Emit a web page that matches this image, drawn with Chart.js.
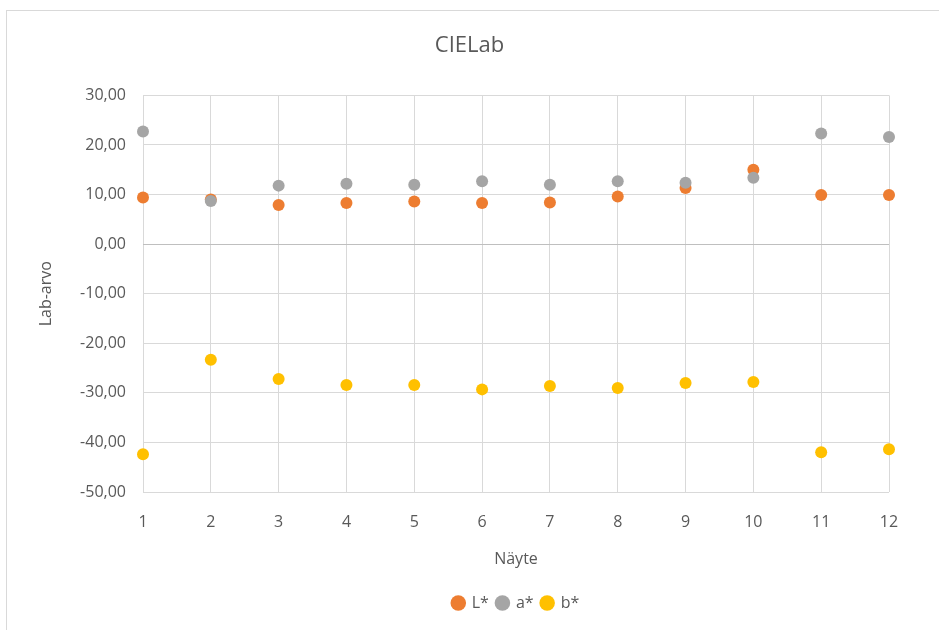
<!DOCTYPE html>
<html>
<head>
<meta charset="utf-8">
<title>CIELab</title>
<script src="https://cdn.jsdelivr.net/npm/chart.js@4"></script>
<style>
  html, body { margin: 0; padding: 0; background: #fff; overflow: hidden; }
  #frame { position: absolute; left: 6px; top: 10px; width: 1000px; height: 700px; border: 1px solid #d9d9d9; }
  #wrap { position: absolute; left: 0; top: 0; width: 939px; height: 630px; }
</style>
</head>
<body>
<div id="frame"></div>
<div id="wrap"><canvas id="chart"></canvas></div>
<script>
// näytteet 1..12
const samples = [1, 2, 3, 4, 5, 6, 7, 8, 9, 10, 11, 12];
const lValues = [9.4, 9.0, 7.9, 8.3, 8.6, 8.3, 8.4, 9.6, 11.3, 15.0, 9.9, 9.9];
const aValues = [22.7, 8.7, 11.8, 12.2, 12.0, 12.7, 12.0, 12.7, 12.4, 13.4, 22.3, 21.6];
const bValues = [-42.4, -23.3, -27.2, -28.4, -28.4, -29.3, -28.6, -29.0, -28.0, -27.8, -42.0, -41.4];
const yTicks = [-50, -40, -30, -20, -10, 0, 10, 20, 30];

const textColor = '#595959';
const font = 'Open Sans';

function toPoints(values) {
  return samples.map((x, i) => ({ x: x, y: values[i] }));
}

function series(label, values, color, order) {
  return {
    label: label,
    data: toPoints(values),
    backgroundColor: color,
    borderColor: color,
    pointRadius: 6,
    pointHoverRadius: 6,
    pointBorderWidth: 0,
    clip: false,
    order: order
  };
}

new Chart(document.getElementById('chart'), {
  type: 'scatter',
  data: {
    datasets: [
      series('L*', lValues, '#ED7D31', 2),
      series('a*', aValues, '#A5A5A5', 1),
      series('b*', bValues, '#FFC000', 3)
    ]
  },
  options: {
    responsive: true,
    maintainAspectRatio: false,
    animation: false,
    layout: { padding: { left: 0, right: 0, top: 0, bottom: 9 } },
    scales: {
      x: {
        type: 'linear',
        min: 1,
        max: 12,
        afterFit: (s) => { s.height = 95; },
        afterBuildTicks: (s) => { s.ticks = samples.map((v) => ({ value: v })); },
        grid: { color: '#d9d9d9', lineWidth: 1, drawTicks: false },
        border: { display: false },
        ticks: { color: textColor, font: { family: font, size: 16 }, padding: 21 },
        title: {
          display: true,
          text: 'Näyte',
          color: textColor,
          font: { family: font, size: 16 },
          padding: { top: 0, bottom: 18 }
        }
      },
      y: {
        min: -50,
        max: 30,
        afterFit: (s) => { s.width = 143; },
        afterBuildTicks: (s) => { s.ticks = yTicks.map((v) => ({ value: v })); },
        grid: {
          color: (ctx) => (ctx.tick && ctx.tick.value === 0 ? '#bfbfbf' : '#d9d9d9'),
          lineWidth: 1,
          drawTicks: false
        },
        border: { display: false },
        ticks: {
          color: textColor,
          font: { family: font, size: 16 },
          padding: 17,
          callback: (v) => v.toFixed(2).replace('.', ',')
        },
        title: {
          display: true,
          text: 'Lab-arvo',
          color: textColor,
          font: { family: font, size: 16 },
          padding: { top: 37, bottom: 0 }
        }
      },
      // tyhjä oikea akseli, pitää piirtoalueen oikean reunan paikallaan
      y2: {
        position: 'right',
        display: true,
        afterFit: (s) => { s.width = 50; },
        grid: { display: false },
        border: { display: false },
        ticks: { display: false }
      }
    },
    plugins: {
      title: {
        display: true,
        text: 'CIELab',
        color: textColor,
        font: { family: font, size: 22, weight: 'normal' },
        padding: { top: 33, bottom: 36 }
      },
      legend: {
        position: 'bottom',
        fullSize: false,
        labels: {
          usePointStyle: true,
          pointStyle: 'circle',
          boxWidth: 11,
          boxHeight: 11,
          padding: 8,
          color: textColor,
          font: { family: font, size: 16 },
          sort: (a, b) => a.datasetIndex - b.datasetIndex
        }
      },
      tooltip: { enabled: false }
    }
  }
});
</script>
</body>
</html>
